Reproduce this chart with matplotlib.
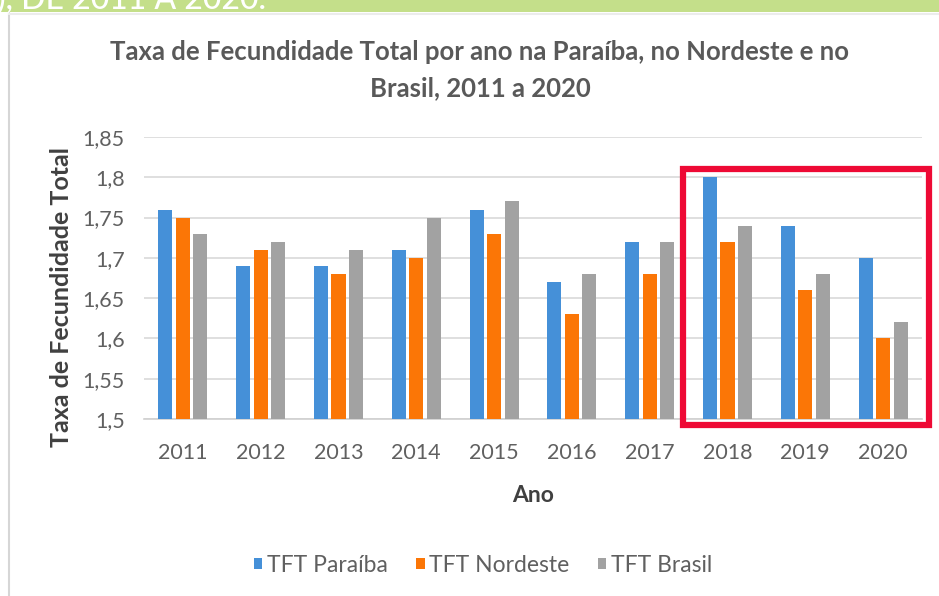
import matplotlib
matplotlib.use("Agg")
import matplotlib.pyplot as plt
import numpy as np
from matplotlib.patches import Rectangle

years = ["2011", "2012", "2013", "2014", "2015", "2016", "2017", "2018", "2019", "2020"]
tft_paraiba = [1.76, 1.69, 1.69, 1.71, 1.76, 1.67, 1.72, 1.80, 1.74, 1.70]
tft_nordeste = [1.75, 1.71, 1.68, 1.70, 1.73, 1.63, 1.68, 1.72, 1.66, 1.60]
tft_brasil = [1.73, 1.72, 1.71, 1.75, 1.77, 1.68, 1.72, 1.74, 1.68, 1.62]
series_names = ["TFT Paraíba", "TFT Nordeste", "TFT Brasil"]
yticks = [1.5, 1.55, 1.6, 1.65, 1.7, 1.75, 1.8, 1.85]
ytick_labels = ["1,5", "1,55", "1,6", "1,65", "1,7", "1,75", "1,8", "1,85"]

colors = ["#4590d8", "#fb7606", "#a2a2a2"]
plt.rcParams['font.family'] = ['Lato', 'DejaVu Sans']

W, H = 939, 596
fig = plt.figure(figsize=(W / 100, H / 100), dpi=100)

# green banner and card border
fig.patches.append(Rectangle((0, 1 - 12 / H), 1, 12 / H, transform=fig.transFigure,
                             facecolor="#c4df8a", edgecolor="none", zorder=0))
fig.lines.append(plt.Line2D([9 / W, 9 / W], [0, 1 - 13 / H], transform=fig.transFigure,
                            color="#d6d6d6", lw=1.5))
fig.lines.append(plt.Line2D([9 / W, 1], [1 - 14 / H, 1 - 14 / H], transform=fig.transFigure,
                            color="#ececec", lw=1.5))
fig.text(-3 / W, 1 - 9 / H, "), DE 2011 A 2020.", color="white", fontsize=23,
         fontweight="medium", va="baseline", ha="left")

ax = fig.add_axes([144 / W, 1 - 419 / H, (922 - 144) / W, (419 - 137) / H])
x = np.arange(len(years))
bw = 0.18
step = 0.225
for i, (vals, name) in enumerate(zip([tft_paraiba, tft_nordeste, tft_brasil], series_names)):
    ax.bar(x + (i - 1) * step, np.array(vals) - 1.5, bw, bottom=1.5, color=colors[i],
           label=name, zorder=3)

ax.set_xlim(-0.5, len(years) - 0.5)
ax.set_ylim(1.5, 1.85)
ax.set_yticks(yticks)
ax.set_yticklabels(ytick_labels)
ax.set_xticks(x)
ax.set_xticklabels(years)
ax.tick_params(axis="both", length=0, labelsize=15.5, labelcolor="#606060")
ax.tick_params(axis="y", pad=14)
ax.tick_params(axis="x", pad=17)
ax.grid(axis="y", color="#d9d9d9", lw=1.2, zorder=0)
for s in ["top", "right", "left"]:
    ax.spines[s].set_visible(False)
ax.spines["bottom"].set_color("#d0d0d0")
ax.spines["bottom"].set_linewidth(1.2)

ax.set_xlabel("Ano", fontsize=16.5, fontweight="bold", color="#404040", labelpad=16)
fig.text(62 / W, 1 - 297 / H, "Taxa de Fecundidade Total", rotation=90, fontsize=18,
         fontweight="bold", color="#404040", ha="center", va="center")

fig.text(480 / W, 1 - 52 / H, "Taxa de Fecundidade Total por ano na Paraíba, no Nordeste e no",
         fontsize=18.5, fontweight="bold", color="#595959", ha="center", va="center")
fig.text(480 / W, 1 - 88 / H, "Brasil, 2011 a 2020",
         fontsize=18.5, fontweight="bold", color="#595959", ha="center", va="center")

leg = fig.legend(loc="center", bbox_to_anchor=(483 / W, 1 - 565 / H), ncol=3, frameon=False,
                 fontsize=16.5, handlelength=0.36, handleheight=0.36, handletextpad=0.2,
                 columnspacing=1.25, borderpad=0)
for t in leg.get_texts():
    t.set_color("#606060")

# red highlight box
fig.patches.append(Rectangle((683 / W, 1 - 425 / H), (929 - 683) / W, (425 - 169) / H,
                             transform=fig.transFigure, fill=False, edgecolor="#ee0a35",
                             lw=4.5, zorder=10))

fig.savefig("out.png", dpi=100)
